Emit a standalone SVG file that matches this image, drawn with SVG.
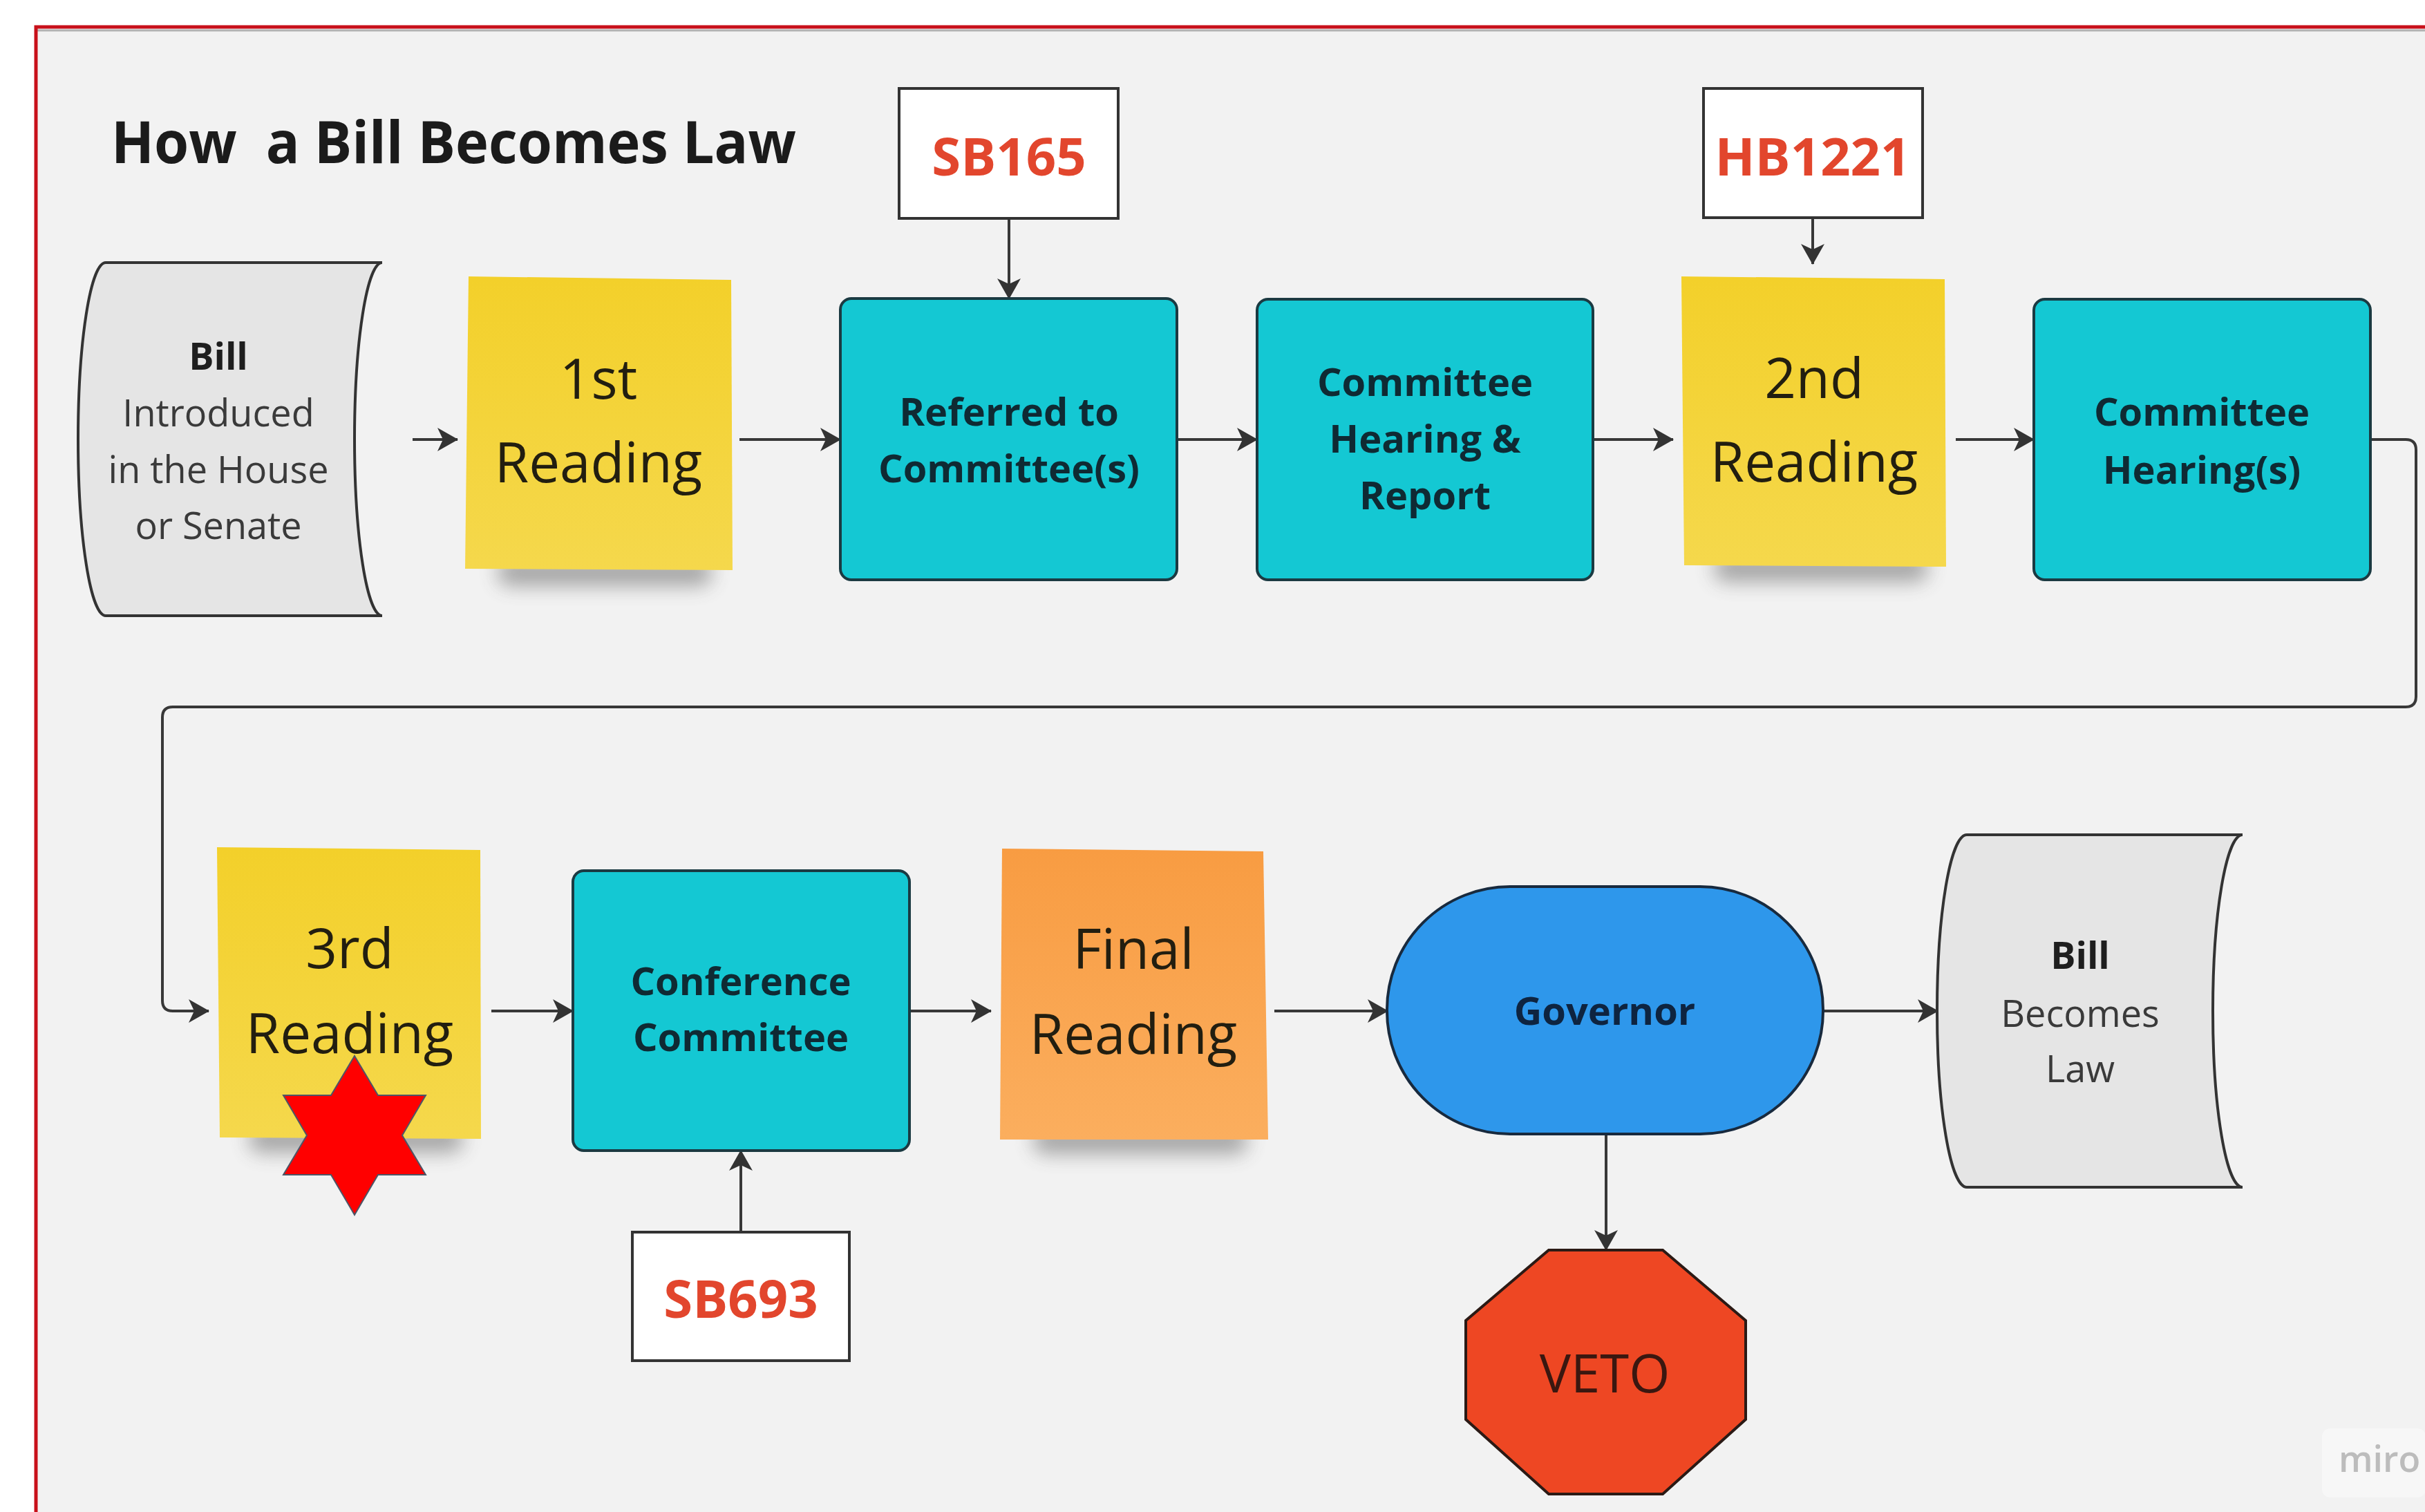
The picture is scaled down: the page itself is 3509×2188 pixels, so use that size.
<svg xmlns="http://www.w3.org/2000/svg" width="3509" height="2188" viewBox="0 0 3509 2188">
<style>
.bg{fill:#f2f2f2}
.frame{fill:none;stroke:#c8101a;stroke-width:5}
.conn{fill:none;stroke:#383838;stroke-width:4}
.teal{fill:#14c8d3;stroke:#1b3a42;stroke-width:4}
.tealtx{font-family:"Open Sans","Noto Sans",sans-serif;font-weight:700;font-size:56px;fill:#0f2a33;text-anchor:middle}
.sticky{fill:url(#gy)}
.stickyo{fill:url(#go)}
.sttx{font-family:"Open Sans","Noto Sans",sans-serif;font-size:80px;fill:#221e10;text-anchor:middle}
.doc{fill:#e5e5e5;stroke:#333;stroke-width:4}
.doctx{font-family:"Open Sans","Noto Sans",sans-serif;font-size:54px;fill:#3a3a3a;text-anchor:middle}
.docb{font-weight:700;fill:#1e1e1e}
.tag{fill:#ffffff;stroke:#333;stroke-width:4}
.tagtx{font-family:"Open Sans","Noto Sans",sans-serif;font-weight:700;font-size:76px;fill:#e2462d;text-anchor:middle}
.shadow{fill:#4a4a4a;opacity:0.45;filter:url(#blur)}
</style>
<defs>
<linearGradient id="gy" x1="0" y1="0" x2="0" y2="1">
<stop offset="0" stop-color="#f3d02a"/>
<stop offset="1" stop-color="#f5d84c"/>
</linearGradient>
<linearGradient id="go" x1="0" y1="0" x2="0" y2="1">
<stop offset="0" stop-color="#f89c42"/>
<stop offset="1" stop-color="#fbae5e"/>
</linearGradient>
<filter id="blur" x="-30%" y="-150%" width="160%" height="400%">
<feGaussianBlur stdDeviation="14"/>
</filter>
<marker id="arr" viewBox="0 0 30 34" refX="29" refY="17" markerWidth="30" markerHeight="34" markerUnits="userSpaceOnUse" orient="auto">
<path d="M0,0 L30,17 L0,34 L8,17 z" fill="#333"/>
</marker>
</defs>

<rect x="0" y="0" width="3509" height="2188" fill="#ffffff"/>
<rect class="bg" x="52" y="39" width="3470" height="2160"/>
<line x1="52" y1="44" x2="3509" y2="44" stroke="#8a8a8a" stroke-width="3" opacity="0.6"/>
<rect class="frame" x="52" y="39" width="3480" height="2170"/>

<text id="title" x="161" y="236" font-family="'Open Sans','Noto Sans',sans-serif" font-weight="700" font-size="85" fill="#1b1b1b" style="white-space:pre" textLength="991" lengthAdjust="spacingAndGlyphs">How  a Bill Becomes Law</text>

<g id="connectors">
<path class="conn" marker-end="url(#arr)" d="M597 636 L662 636"/>
<path class="conn" marker-end="url(#arr)" d="M1070 636 L1216 636"/>
<path class="conn" marker-end="url(#arr)" d="M1460 316 L1460 432"/>
<path class="conn" marker-end="url(#arr)" d="M1703 636 L1819 636"/>
<path class="conn" marker-end="url(#arr)" d="M2305 636 L2421 636"/>
<path class="conn" marker-end="url(#arr)" d="M2623 315 L2623 382"/>
<path class="conn" marker-end="url(#arr)" d="M2830 636 L2943 636"/>
<path class="conn" marker-end="url(#arr)" d="M3430 636 L3481 636 Q3496 636 3496 651 L3496 1008 Q3496 1023 3481 1023 L250 1023 Q235 1023 235 1038 L235 1448 Q235 1463 250 1463 L302 1463"/>
<path class="conn" marker-end="url(#arr)" d="M711 1463 L829 1463"/>
<path class="conn" marker-end="url(#arr)" d="M1072 1783 L1072 1665"/>
<path class="conn" marker-end="url(#arr)" d="M1316 1463 L1434 1463"/>
<path class="conn" marker-end="url(#arr)" d="M1844 1463 L2008 1463"/>
<path class="conn" marker-end="url(#arr)" d="M2324 1641 L2324 1809"/>
<path class="conn" marker-end="url(#arr)" d="M2638 1463 L2804 1463"/>
</g>

<g id="bill-introduced">
<path class="doc" d="M153 380 L553 380 A40 255.5 0 0 0 553 891 L153 891 A40 255.5 0 0 1 153 380 Z"/>
<text class="doctx docb" x="316" y="535">Bill</text>
<text class="doctx" x="316" y="617">Introduced</text>
<text class="doctx" x="316" y="699">in the House</text>
<text class="doctx" x="316" y="780">or Senate</text>
</g>

<g id="first-reading">
<rect class="shadow" x="720" y="808" width="310" height="40" rx="18"/>
<polygon class="sticky" points="678,400 1058,405 1060,825 673,823"/>
<text class="sttx" x="866" y="577">1st</text>
<text class="sttx" x="866" y="698">Reading</text>
</g>

<g id="sb165">
<rect class="tag" x="1301" y="128" width="317" height="188"/>
<text class="tagtx" x="1460" y="254">SB165</text>
</g>

<g id="referred">
<rect class="teal" x="1216" y="432" width="487" height="407" rx="16"/>
<text class="tealtx" x="1460" y="616">Referred to</text>
<text class="tealtx" x="1460" y="698">Committee(s)</text>
</g>

<g id="committee-hearing-report">
<rect class="teal" x="1819" y="433" width="486" height="406" rx="16"/>
<text class="tealtx" x="2062" y="573">Committee</text>
<text class="tealtx" x="2062" y="655">Hearing &amp;</text>
<text class="tealtx" x="2062" y="737">Report</text>
</g>

<g id="hb1221">
<rect class="tag" x="2465" y="128" width="317" height="187"/>
<text class="tagtx" x="2623" y="254">HB1221</text>
</g>

<g id="second-reading">
<rect class="shadow" x="2480" y="802" width="310" height="40" rx="18"/>
<polygon class="sticky" points="2433,400 2814,404 2816,820 2437,818"/>
<text class="sttx" x="2625" y="576">2nd</text>
<text class="sttx" x="2625" y="697">Reading</text>
</g>

<g id="committee-hearings">
<rect class="teal" x="2943" y="433" width="487" height="406" rx="16"/>
<text class="tealtx" x="3186" y="616">Committee</text>
<text class="tealtx" x="3186" y="700">Hearing(s)</text>
</g>

<g id="third-reading">
<rect class="shadow" x="360" y="1628" width="310" height="40" rx="18"/>
<polygon class="sticky" points="314,1226 695,1230 696,1648 318,1646"/>
<text class="sttx" x="506" y="1401">3rd</text>
<text class="sttx" x="506" y="1524">Reading</text>
</g>

<g id="star">
<polygon points="513,1528 547,1585 616,1585 582,1643 616,1700 547,1700 513,1758 479,1700 410,1700 444,1643 410,1585 479,1585" fill="#ff0000" stroke="#4d5566" stroke-width="2"/>
</g>

<g id="conference-committee">
<rect class="teal" x="829" y="1260" width="487" height="405" rx="16"/>
<text class="tealtx" x="1072" y="1440">Conference</text>
<text class="tealtx" x="1072" y="1521">Committee</text>
</g>

<g id="sb693">
<rect class="tag" x="915" y="1783" width="314" height="186"/>
<text class="tagtx" x="1072" y="1907">SB693</text>
</g>

<g id="final-reading">
<rect class="shadow" x="1495" y="1630" width="310" height="40" rx="18"/>
<polygon class="stickyo" points="1450,1228 1828,1232 1835,1649 1447,1649"/>
<text class="sttx" x="1640" y="1402">Final</text>
<text class="sttx" x="1640" y="1525">Reading</text>
</g>

<g id="governor">
<rect x="2007" y="1283" width="631" height="358" rx="178" ry="178" fill="#2e97eb" stroke="#182a3e" stroke-width="4"/>
<text class="tealtx" x="2322" y="1483" style="fill:#0e2440">Governor</text>
</g>

<g id="veto">
<polygon points="2241,1809 2406,1809 2526,1911 2526,2054 2406,2162 2241,2162 2121,2054 2121,1911" fill="#ee4723" stroke="#2b1a15" stroke-width="4"/>
<text x="2322" y="2015" font-family="'Open Sans','Noto Sans',sans-serif" font-size="76" fill="#3a1710" text-anchor="middle">VETO</text>
</g>

<g id="bill-becomes-law">
<path class="doc" d="M2846 1208 L3245 1208 A43 255 0 0 0 3245 1718 L2846 1718 A43 255 0 0 1 2846 1208 Z"/>
<text class="doctx docb" x="3010" y="1402">Bill</text>
<text class="doctx" x="3010" y="1486">Becomes</text>
<text class="doctx" x="3010" y="1566">Law</text>
</g>

<g id="miro">
<rect x="3360" y="2067" width="150" height="100" rx="12" fill="#f7f7f7"/>
<text x="3384" y="2130" font-family="'Open Sans','Noto Sans',sans-serif" font-weight="600" font-size="52" fill="#bcbcbc">miro</text>
</g>
</svg>
